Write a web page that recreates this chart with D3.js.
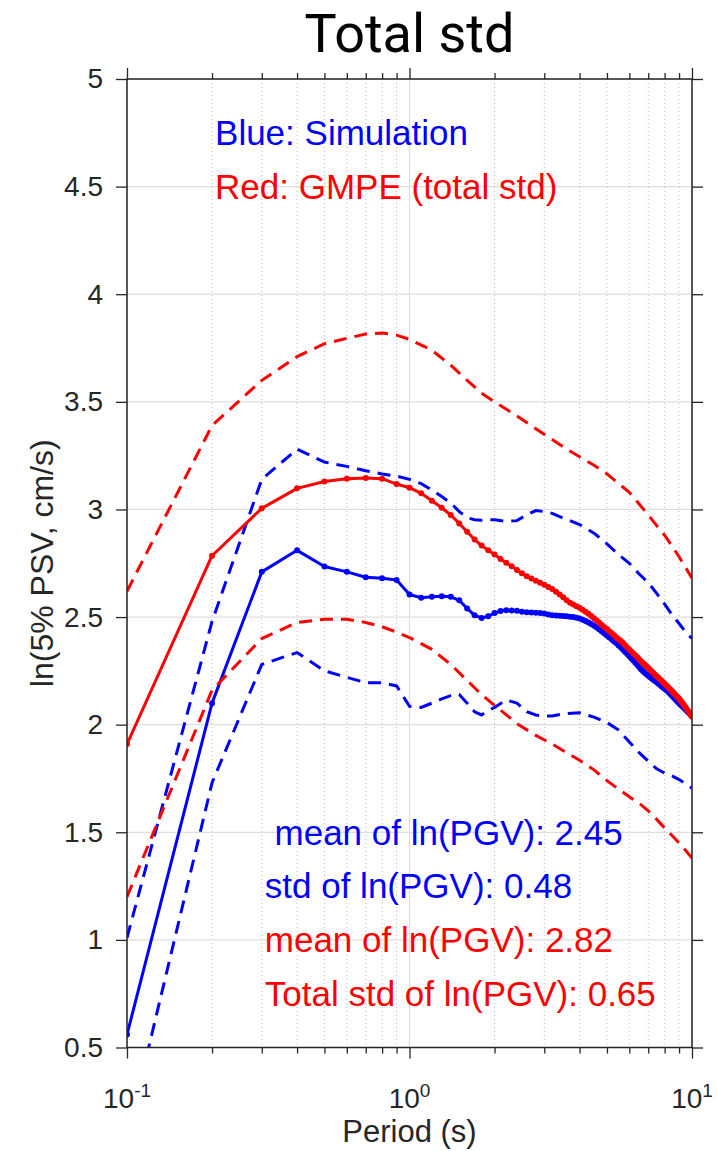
<!DOCTYPE html>
<html lang="en">
<head>
<meta charset="utf-8">
<style>
    body { margin: 0; background: #fff; }
    svg { display: block; }
    text { font-family: "Liberation Sans", Arial, Helvetica, sans-serif; }
</style>
</head>
<body>
<svg width="717" height="1151"></svg>
<script src="https://cdn.jsdelivr.net/npm/d3@7/dist/d3.min.js"></script>
<script>
// ---------------------------------------------------------------------------
// Data
// ---------------------------------------------------------------------------
const periods = [
    0.1, 0.2, 0.3, 0.4, 0.5, 0.6, 0.7, 0.8, 0.9,
    1.0, 1.1, 1.2, 1.3, 1.4, 1.5, 1.6, 1.7, 1.8, 1.9,
    2.0, 2.1, 2.2, 2.3, 2.4, 2.5, 2.6, 2.7, 2.8, 2.9,
    3.0, 3.1, 3.2, 3.3, 3.4, 3.5, 3.6, 3.7, 3.8, 3.9,
    4.0, 4.1, 4.2, 4.3, 4.4, 4.5, 4.6, 4.7, 4.8, 4.9,
    5.0, 5.1, 5.2, 5.3, 5.4, 5.5, 5.6, 5.7, 5.8, 5.9,
    6.0, 6.1, 6.2, 6.3, 6.4, 6.5, 6.6, 6.7, 6.8, 6.9,
    7.0, 7.1, 7.2, 7.3, 7.4, 7.5, 7.6, 7.7, 7.8, 7.9,
    8.0, 8.1, 8.2, 8.3, 8.4, 8.5, 8.6, 8.7, 8.8, 8.9,
    9.0, 9.1, 9.2, 9.3, 9.4, 9.5, 9.6, 9.7, 9.8, 9.9, 10.0
];

// Blue: simulation mean of ln(PSV)
const simMean = [
    0.56, 2.10, 2.71, 2.81, 2.735, 2.71, 2.685, 2.68, 2.672,
    2.605, 2.59, 2.594, 2.597, 2.594, 2.578, 2.54, 2.508, 2.496, 2.504,
    2.519, 2.528, 2.532, 2.531, 2.529, 2.525, 2.522, 2.521, 2.52, 2.519,
    2.516, 2.512, 2.508, 2.507, 2.506, 2.505, 2.504, 2.502, 2.50, 2.497,
    2.493, 2.488, 2.482, 2.475, 2.468, 2.46, 2.451, 2.442, 2.433, 2.424,
    2.414, 2.405, 2.396, 2.387, 2.378, 2.368, 2.358, 2.348, 2.338, 2.328,
    2.318, 2.308, 2.298, 2.288, 2.278, 2.268, 2.258, 2.249, 2.241, 2.234,
    2.227, 2.221, 2.215, 2.209, 2.203, 2.197, 2.191, 2.185, 2.179, 2.173,
    2.167, 2.161, 2.155, 2.148, 2.141, 2.134, 2.127, 2.12, 2.113, 2.106,
    2.10, 2.094, 2.088, 2.082, 2.076, 2.07, 2.064, 2.058, 2.052, 2.046, 2.04
];

// Red: GMPE mean of ln(PSV)
const gmpeMean = [
    1.91, 2.785, 3.005, 3.098, 3.13, 3.143, 3.146, 3.143, 3.118,
    3.101, 3.075, 3.04, 3.008, 2.974, 2.935, 2.896, 2.86, 2.832, 2.81,
    2.791, 2.77, 2.752, 2.736, 2.719, 2.703, 2.69, 2.679, 2.669, 2.659,
    2.65, 2.64, 2.63, 2.618, 2.605, 2.592, 2.578, 2.566, 2.558, 2.55,
    2.543, 2.534, 2.525, 2.515, 2.505, 2.495, 2.484, 2.473, 2.463, 2.453,
    2.444, 2.434, 2.425, 2.415, 2.405, 2.397, 2.389, 2.379, 2.369, 2.359,
    2.349, 2.34, 2.331, 2.322, 2.313, 2.304, 2.295, 2.287, 2.279, 2.271,
    2.263, 2.255, 2.247, 2.24, 2.232, 2.225, 2.218, 2.211, 2.204, 2.197,
    2.19, 2.183, 2.176, 2.169, 2.162, 2.155, 2.148, 2.141, 2.134, 2.127,
    2.12, 2.112, 2.104, 2.096, 2.088, 2.08, 2.071, 2.062, 2.054, 2.045, 2.037
];

// Dashed curves (mean +/- std)
const simBandPeriods = [0.1, 0.2, 0.3, 0.4, 0.5, 0.6, 0.7, 0.8, 0.9, 1.0, 1.1, 1.2, 1.3, 1.4, 1.5,
    1.6, 1.7, 1.8, 1.9, 2.0, 2.2, 2.4, 2.6, 2.8, 3.0, 3.2, 3.5, 4.0, 4.5, 5.0, 5.5, 6.0, 6.5,
    7.0, 7.5, 8.0, 8.5, 9.0, 9.5, 10];
const simUpper = [1.01, 2.48, 3.14, 3.28, 3.22, 3.20, 3.18, 3.165, 3.155, 3.14, 3.12, 3.09, 3.06, 3.03, 2.99,
    2.962, 2.952, 2.95, 2.953, 2.952, 2.945, 2.948, 2.975, 2.995, 2.99, 2.982, 2.96, 2.93, 2.89, 2.84, 2.79, 2.75, 2.70,
    2.66, 2.61, 2.56, 2.51, 2.47, 2.43, 2.40];
const simLower = [0.08, 1.73, 2.28, 2.335, 2.25, 2.22, 2.195, 2.195, 2.18, 2.085, 2.08, 2.10, 2.12, 2.135, 2.14,
    2.10, 2.06, 2.045, 2.065, 2.08, 2.115, 2.10, 2.06, 2.045, 2.04, 2.04, 2.05, 2.055, 2.035, 2.01, 1.975, 1.92, 1.87,
    1.83, 1.795, 1.775, 1.762, 1.745, 1.725, 1.705];

const gmpeBandPeriods = [0.1, 0.2, 0.3, 0.4, 0.5, 0.6, 0.7, 0.8, 0.9, 1.0, 1.2, 1.4, 1.6, 1.8, 2.0,
    2.4, 2.8, 3.2, 3.6, 4.0, 4.5, 5.0, 5.5, 6.0, 6.5, 7.0, 7.5, 8.0, 8.5, 9.0, 9.5, 10];
const gmpeUpper = [2.62, 3.39, 3.60, 3.71, 3.77, 3.795, 3.815, 3.82, 3.81, 3.79, 3.74, 3.67, 3.60, 3.54, 3.50,
    3.435, 3.375, 3.325, 3.28, 3.245, 3.205, 3.165, 3.12, 3.08, 3.025, 2.975, 2.925, 2.88, 2.83, 2.78, 2.73, 2.68];
const gmpeLower = [1.20, 2.16, 2.40, 2.475, 2.49, 2.49, 2.475, 2.455, 2.43, 2.405, 2.35, 2.28, 2.205, 2.14, 2.09,
    2.005, 1.95, 1.91, 1.87, 1.835, 1.79, 1.74, 1.70, 1.665, 1.635, 1.60, 1.56, 1.52, 1.485, 1.45, 1.415, 1.38];

const yTicks = [0.5, 1, 1.5, 2, 2.5, 3, 3.5, 4, 4.5, 5];
const xMajor = [0.1, 1, 10];
const xExponents = ["-1", "0", "1"];
const xMinor = [0.2, 0.3, 0.4, 0.5, 0.6, 0.7, 0.8, 0.9, 2, 3, 4, 5, 6, 7, 8, 9];

const legendLines = [
    { text: "Blue: Simulation", color: "#0000ff", px: 0.2, py: 4.75 },
    { text: "Red: GMPE (total std)", color: "#ff0000", px: 0.2, py: 4.5 }
];
const statLines = [
    { text: " mean of ln(PGV): 2.45", color: "#0000ff", px: 0.3, py: 1.5 },
    { text: "std of ln(PGV): 0.48", color: "#0000ff", px: 0.3, py: 1.25 },
    { text: "mean of ln(PGV): 2.82", color: "#ff0000", px: 0.3, py: 1.0 },
    { text: "Total std of ln(PGV): 0.65", color: "#ff0000", px: 0.3, py: 0.75 }
];

// ---------------------------------------------------------------------------
// Layout
// ---------------------------------------------------------------------------
const svg = d3.select("svg");
const plotLeft = 127, plotRight = 692, plotTop = 79, plotBottom = 1047.5;
const axisColor = "#262626";

const x = d3.scaleLog().domain([0.1, 10]).range([plotLeft, plotRight]);
const y = d3.scaleLinear().domain([0.5, 5]).range([plotBottom, plotTop]);

// Title
svg.append("text")
    .attr("x", (plotLeft + plotRight) / 2).attr("y", 51.5)
    .attr("text-anchor", "middle")
    .style("font-family", "Roboto, 'Open Sans', sans-serif")
    .style("font-size", "54px")
    .attr("fill", "#000")
    .text("Total std");

// Grid
const grid = svg.append("g");
grid.selectAll(".xminor").data(xMinor).enter().append("line")
    .attr("x1", d => x(d)).attr("x2", d => x(d))
    .attr("y1", plotTop).attr("y2", plotBottom)
    .attr("stroke", "#bdbdbd").attr("stroke-width", 1)
    .attr("stroke-dasharray", "1,3");
grid.selectAll(".xmajor").data(xMajor).enter().append("line")
    .attr("x1", d => x(d)).attr("x2", d => x(d))
    .attr("y1", plotTop).attr("y2", plotBottom)
    .attr("stroke", "#dedede").attr("stroke-width", 1.2);
grid.selectAll(".ymajor").data(yTicks).enter().append("line")
    .attr("x1", plotLeft).attr("x2", plotRight)
    .attr("y1", d => y(d)).attr("y2", d => y(d))
    .attr("stroke", "#dedede").attr("stroke-width", 1.2);

// Clip for data
svg.append("defs").append("clipPath").attr("id", "plotClip")
    .append("rect").attr("x", plotLeft).attr("y", plotTop)
    .attr("width", plotRight - plotLeft).attr("height", plotBottom - plotTop);

const plot = svg.append("g").attr("clip-path", "url(#plotClip)");
const line = d3.line().x(d => x(d[0])).y(d => y(d[1]));

function dashed(ps, vs, color) {
    plot.append("path")
        .datum(ps.map((p, i) => [p, vs[i]]))
        .attr("d", line)
        .attr("fill", "none")
        .attr("stroke", color)
        .attr("stroke-width", 3)
        .attr("stroke-dasharray", "13,8");
}

function solid(vs, color) {
    const pts = periods.map((p, i) => [p, vs[i]]);
    plot.append("path")
        .datum(pts)
        .attr("d", line)
        .attr("fill", "none")
        .attr("stroke", color)
        .attr("stroke-width", 3)
        .attr("stroke-linejoin", "round");
    plot.selectAll(null).data(pts).enter().append("circle")
        .attr("cx", d => x(d[0])).attr("cy", d => y(d[1]))
        .attr("r", 3)
        .attr("fill", color);
}

// Blue first, red on top
solid(simMean, "#0000ff");
dashed(simBandPeriods, simUpper, "#0000ff");
dashed(simBandPeriods, simLower, "#0000ff");
solid(gmpeMean, "#ff0000");
dashed(gmpeBandPeriods, gmpeUpper, "#ff0000");
dashed(gmpeBandPeriods, gmpeLower, "#ff0000");

// Axes (ticks outward on all four sides)
function styleAxis(g) {
    g.select(".domain").remove();
    g.selectAll("line").attr("stroke", axisColor).attr("stroke-width", 1.3);
}
const noLabel = () => "";

svg.append("g").attr("transform", `translate(0,${plotBottom})`)
    .call(d3.axisBottom(x).tickValues(xMajor).tickSize(11).tickFormat(noLabel)).call(styleAxis);
svg.append("g").attr("transform", `translate(0,${plotBottom})`)
    .call(d3.axisBottom(x).tickValues(xMinor).tickSize(6).tickFormat(noLabel)).call(styleAxis);
svg.append("g").attr("transform", `translate(0,${plotTop})`)
    .call(d3.axisTop(x).tickValues(xMajor).tickSize(11).tickFormat(noLabel)).call(styleAxis);
svg.append("g").attr("transform", `translate(0,${plotTop})`)
    .call(d3.axisTop(x).tickValues(xMinor).tickSize(6).tickFormat(noLabel)).call(styleAxis);

const yLeft = svg.append("g").attr("transform", `translate(${plotLeft},0)`)
    .call(d3.axisLeft(y).tickValues(yTicks).tickSize(11).tickPadding(13).tickFormat(d3.format("~g")))
    .call(styleAxis);
yLeft.selectAll("text")
    .attr("fill", axisColor)
    .style("font-size", "28px")
    .style("font-family", "'Liberation Sans', Arial, sans-serif");
svg.append("g").attr("transform", `translate(${plotRight},0)`)
    .call(d3.axisRight(y).tickValues(yTicks).tickSize(11).tickFormat(noLabel)).call(styleAxis);

// Frame
svg.append("rect")
    .attr("x", plotLeft).attr("y", plotTop)
    .attr("width", plotRight - plotLeft).attr("height", plotBottom - plotTop)
    .attr("fill", "none").attr("stroke", axisColor).attr("stroke-width", 1.5);

// X tick labels 10^n
const xl = svg.append("g");
xMajor.forEach((v, i) => {
    const t = xl.append("text")
        .attr("x", x(v)).attr("y", 1108)
        .attr("text-anchor", "middle")
        .attr("fill", axisColor)
        .style("font-size", "28px");
    t.append("tspan").text("10");
    t.append("tspan").attr("dy", -11).style("font-size", "19px").text(xExponents[i]);
});

// Axis labels
svg.append("text")
    .attr("x", (plotLeft + plotRight) / 2).attr("y", 1142)
    .attr("text-anchor", "middle")
    .attr("fill", axisColor)
    .style("font-size", "31px")
    .text("Period (s)");
svg.append("text")
    .attr("transform", `translate(53,${(plotTop + plotBottom) / 2}) rotate(-90)`)
    .attr("text-anchor", "middle")
    .attr("fill", axisColor)
    .style("font-size", "32px")
    .text("ln(5% PSV, cm/s)");

// Annotations
svg.selectAll(".ann").data(legendLines.concat(statLines)).enter().append("text")
    .attr("x", d => x(d.px) + 3)
    .attr("y", d => y(d.py))
    .attr("dy", "0.35em")
    .attr("fill", d => d.color)
    .style("font-size", "35px")
    .style("white-space", "pre")
    .attr("xml:space", "preserve")
    .text(d => d.text);
</script>
</body>
</html>
